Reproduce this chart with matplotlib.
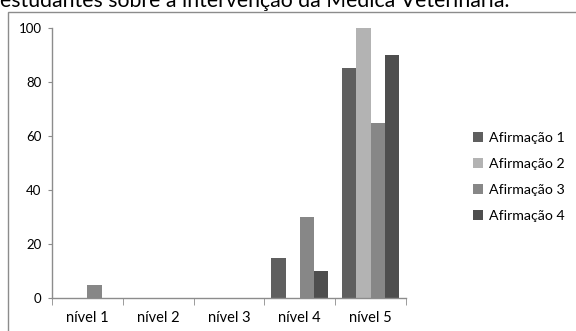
import numpy as np
import matplotlib
matplotlib.use("Agg")
import matplotlib.pyplot as plt
from matplotlib.patches import Rectangle

plt.rcParams['font.family'] = ['Lato', 'DejaVu Sans']

niveis = ["nível 1", "nível 2", "nível 3", "nível 4", "nível 5"]
series_names = ["Afirmação 1", "Afirmação 2", "Afirmação 3", "Afirmação 4"]
afirmacao_1 = [0, 0, 0, 15, 85]
afirmacao_2 = [0, 0, 0, 0, 100]
afirmacao_3 = [5, 0, 0, 30, 65]
afirmacao_4 = [0, 0, 0, 10, 90]
colors = ["#5f5f5f", "#b3b3b3", "#878787", "#4e4e4e"]

W, H = 576, 331
fig = plt.figure(figsize=(W / 100, H / 100), dpi=100)

# outer chart frame (runs off the right and bottom edge)
fig.patches.append(Rectangle((8 / W, -0.05), 1.0, 1 - 12 / H + 0.05,
                             transform=fig.transFigure, fill=False,
                             edgecolor="#8c8c8c", linewidth=1.0))

# title line, cut at the top
fig.text(0.0, 1 - 7 / H, "estudantes sobre a intervenção da Médica Veterinária.",
         fontsize=15.3, ha="left", va="baseline", color="black")

ax = fig.add_axes([52 / W, 1 - 298 / H, (406 - 52) / W, (298 - 28) / H])

x = np.arange(len(niveis))
bw = 0.2
all_series = [afirmacao_1, afirmacao_2, afirmacao_3, afirmacao_4]
for i, (vals, name, c) in enumerate(zip(all_series, series_names, colors)):
    ax.bar(x + (i - 1.5) * bw, vals, width=bw, color=c, label=name)

ax.set_xlim(-0.5, 4.5)
ax.set_ylim(0, 100)
ax.set_yticks([0, 20, 40, 60, 80, 100])
ax.set_xticks(x)
ax.set_xticklabels(niveis)
ax.set_xticks(np.arange(-0.5, 5, 1), minor=True)
ax.tick_params(axis="x", which="major", length=0, pad=9, labelsize=10.5)
ax.tick_params(axis="x", which="minor", length=5, color="#8c8c8c", direction="out")
ax.tick_params(axis="y", length=3, color="#8c8c8c", labelsize=9.5, pad=4.5)

for s in ["top", "right"]:
    ax.spines[s].set_visible(False)
for s in ["left", "bottom"]:
    ax.spines[s].set_color("#8c8c8c")
    ax.spines[s].set_linewidth(1.0)

fig.legend(loc="center left", bbox_to_anchor=(460 / W, 1 - 177 / H),
           frameon=False, fontsize=10.2, handlelength=0.7, handleheight=0.7,
           handletextpad=0.45, labelspacing=1.0)

fig.savefig("out.png", dpi=100)
